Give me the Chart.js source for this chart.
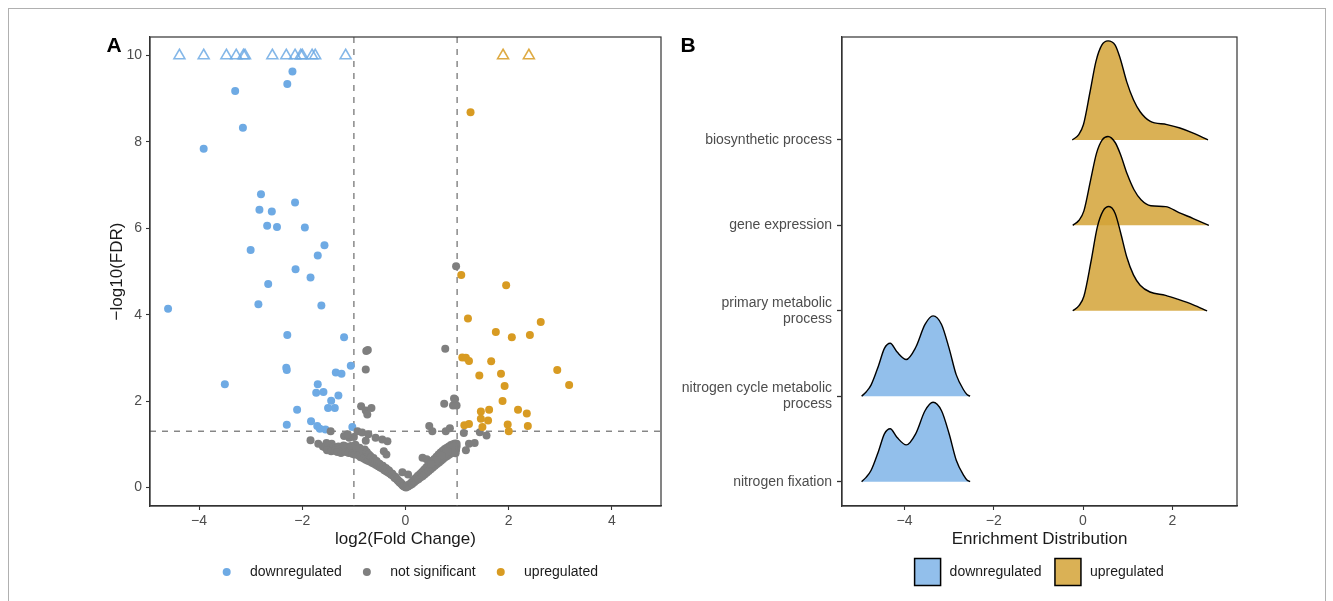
<!DOCTYPE html>
<html>
<head>
<meta charset="utf-8">
<script src="https://cdn.jsdelivr.net/npm/chart.js@4.4.0/dist/chart.umd.min.js"></script>
<style>
  html, body { margin: 0; padding: 0; background: #fff; }
  #page { position: relative; width: 1333px; height: 601px; overflow: hidden; }
  #frame { position: absolute; left: 8px; top: 8px; width: 1318px; height: 600px;
           border: 1px solid #b0b0b0; border-bottom: none; box-sizing: border-box; }
  #panelA { position: absolute; left: 0; top: 0; }
  #panelB { position: absolute; left: 670px; top: 0; }
</style>
</head>
<body>
<div id="page">
  <div id="frame"></div>
  <canvas id="panelA" width="670" height="601"></canvas>
  <canvas id="panelB" width="663" height="601"></canvas>
</div>
<script>
// ---- Panel A: volcano plot, [log2FC, -log10 FDR] ----
const downregulated = [
  [-2.19,9.63],[-2.29,9.34],[-3.30,9.18],[-3.15,8.33],[-3.91,7.84],
  [-2.80,6.79],[-2.83,6.43],[-2.59,6.39],[-2.14,6.60],[-2.68,6.06],[-2.49,6.03],[-1.95,6.02],
  [-3.00,5.50],[-1.57,5.61],[-1.70,5.37],[-2.13,5.05],[-1.84,4.86],[-2.66,4.71],
  [-4.60,4.14],[-2.85,4.24],[-1.63,4.21],[-2.29,3.53],[-1.19,3.48],
  [-1.06,2.82],[-2.31,2.77],[-2.30,2.72],[-1.35,2.66],[-1.24,2.63],
  [-3.50,2.39],[-1.70,2.39],[-1.73,2.19],[-1.59,2.21],[-1.30,2.13],[-1.44,2.01],
  [-1.50,1.84],[-1.37,1.84],[-2.10,1.80],[-2.30,1.45],[-1.83,1.53],[-1.71,1.42],
  [-1.66,1.36],[-1.55,1.34],[-1.03,1.40]
];
const upregulated = [
  [1.26,8.69],[1.08,4.92],[1.95,4.68],[1.21,3.91],[2.62,3.83],[1.75,3.60],[2.06,3.48],[2.41,3.53],
  [1.10,3.01],[1.17,3.00],[1.23,2.93],[1.66,2.92],[2.94,2.72],[1.43,2.59],[1.85,2.63],
  [3.17,2.37],[1.92,2.35],[1.88,2.00],[1.46,1.76],[1.62,1.80],[2.18,1.80],[2.35,1.71],
  [1.46,1.59],[1.60,1.55],[1.14,1.44],[1.23,1.47],[1.49,1.40],[1.98,1.46],[2.00,1.30],[2.37,1.42]
];
const notSignificant = [
  [0.98,5.12],[0.77,3.21],[-0.73,3.18],[-0.76,3.16],[-0.77,2.73],
  [-0.86,1.88],[-0.77,1.78],[-0.74,1.69],[-0.66,1.84],
  [0.75,1.94],[0.92,1.90],[0.96,2.04],[0.99,1.90],[0.94,2.06],
  [0.78,1.30],[0.86,1.37],[0.46,1.42],[0.52,1.30],
  [1.13,1.26],[1.44,1.28],[1.57,1.20],[1.23,1.01],[1.34,1.03],[1.17,0.86],
  [-1.45,1.30],[-1.84,1.09],[-1.69,1.01],[-1.53,1.03],[-1.43,1.01],[-1.42,0.88],
  [-1.19,1.19],[-1.09,1.15],[-1.00,1.17],[-0.93,1.30],[-0.84,1.27],[-0.72,1.23],
  [-1.12,1.23],[-0.77,1.08],[-0.58,1.15],[-0.45,1.11],[-0.35,1.07],
  [-0.42,0.84],[-0.37,0.76],[0.33,0.69],[0.41,0.65],[-0.06,0.35],[0.05,0.30],
  [-1.60,0.95],[-1.55,0.92],[-1.50,0.97],[-1.47,0.90],[-1.40,0.94],[-1.35,0.91],[-1.30,0.95],
  [-1.27,0.89],[-1.22,0.92],[-1.18,0.88],[-1.15,0.95],[-1.12,0.87],[-1.08,0.92],[-1.05,0.85],
  [-1.02,0.90],[-1.00,0.83],[-0.98,0.94],[-0.96,0.86],[-0.94,0.80],[-0.92,0.90],[-0.90,0.82],
  [-0.88,0.76],[-0.86,0.86],[-0.84,0.78],[-0.82,0.73],[-0.80,0.82],[-0.78,0.74],[-0.76,0.69],
  [-0.74,0.78],[-0.72,0.70],[-0.70,0.65],[-0.68,0.73],[-0.66,0.66],[-0.64,0.61],[-0.62,0.68],
  [-0.60,0.62],[-0.58,0.57],[-0.56,0.61],[-0.54,0.56],[-0.52,0.52],[-0.50,0.54],[-0.48,0.50],
  [-0.46,0.47],[-0.44,0.50],[-0.42,0.46],[-0.40,0.42],[-0.38,0.45],[-0.36,0.40],[-0.34,0.37],
  [-0.32,0.39],[-0.30,0.34],[-0.28,0.31],[-0.26,0.32],[-0.24,0.28],[-0.22,0.25],[-0.20,0.25],
  [-0.18,0.21],[-0.16,0.19],[-0.14,0.16],[-0.12,0.14],[-0.10,0.12],[-0.08,0.09],[-0.06,0.07],
  [-0.04,0.05],[-0.02,0.03],[0.00,0.02],
  [-1.52,0.86],[-1.44,0.84],[-1.37,0.85],[-1.32,0.82],[-1.25,0.80],[-1.20,0.97],[-1.16,0.82],
  [-1.10,0.80],[-1.06,0.96],[-1.03,0.78],[-0.99,0.76],[-0.97,0.99],[-0.95,0.92],[-0.91,0.74],
  [-0.89,0.92],[-0.87,0.70],[-0.83,0.86],[-0.81,0.67],[-0.79,0.88],[-0.77,0.64],[-0.75,0.82],
  [-0.73,0.62],[-0.71,0.76],[-0.69,0.60],[-0.67,0.70],[-0.65,0.57],[-0.63,0.64],[-0.61,0.55],
  [-0.59,0.60],[-0.57,0.52],[-0.55,0.58],[-0.53,0.49],[-0.51,0.55],[-0.49,0.46],[-0.47,0.51],
  [-0.45,0.44],[-0.43,0.47],[-0.41,0.40],[-0.39,0.43],[-0.37,0.37],[-0.35,0.41],[-0.33,0.34],
  [-0.31,0.36],[-0.29,0.31],[-0.27,0.29],[-0.25,0.30],[-0.23,0.26],[-0.21,0.22],[-0.19,0.23],
  [-0.17,0.19],[-0.15,0.16],[-0.13,0.14],[-0.11,0.11],[-0.09,0.10],[-0.07,0.07],[-0.05,0.04],
  [-0.03,0.03],[-0.01,0.01],
  [0.02,0.02],[0.04,0.03],[0.06,0.05],[0.08,0.06],[0.10,0.08],[0.12,0.10],[0.14,0.13],
  [0.16,0.16],[0.18,0.18],[0.20,0.22],[0.22,0.20],[0.24,0.27],[0.26,0.24],[0.28,0.31],
  [0.30,0.27],[0.32,0.36],[0.34,0.31],[0.36,0.41],[0.38,0.35],[0.40,0.46],[0.42,0.39],
  [0.44,0.52],[0.46,0.44],[0.48,0.57],[0.50,0.48],[0.52,0.62],[0.54,0.52],[0.56,0.66],
  [0.58,0.56],[0.60,0.71],[0.62,0.60],[0.64,0.76],[0.66,0.64],[0.68,0.81],[0.70,0.68],
  [0.72,0.85],[0.74,0.71],[0.76,0.89],[0.78,0.75],[0.80,0.92],[0.82,0.78],[0.84,0.95],
  [0.86,0.81],[0.88,0.98],[0.90,0.83],[0.92,1.00],[0.94,0.86],[0.96,1.02],[0.98,0.88],
  [0.99,0.95],[0.97,0.79],[0.93,0.93],[0.85,0.88],[0.75,0.80],[0.65,0.70],[0.55,0.58],
  [0.01,0.00],[0.03,0.04],[0.05,0.02],[0.07,0.07],[0.09,0.05],[0.11,0.11],[0.13,0.08],
  [0.15,0.17],[0.17,0.12],[0.19,0.20],[0.21,0.16],[0.23,0.24],[0.25,0.19],[0.27,0.28],
  [0.29,0.23],[0.31,0.32],[0.33,0.26],[0.35,0.37],[0.37,0.30],[0.39,0.42],[0.41,0.34],
  [0.43,0.47],[0.45,0.38],[0.47,0.53],[0.49,0.42],[0.51,0.58],[0.53,0.46],[0.55,0.63],
  [0.57,0.50],[0.59,0.67],[0.61,0.54],[0.63,0.72],[0.65,0.58],[0.67,0.77],[0.69,0.62],
  [0.71,0.80],[0.73,0.66],[0.75,0.86],[0.77,0.70],[0.79,0.86],[0.81,0.73],[0.83,0.90],
  [0.85,0.76],[0.87,0.93],[0.89,0.79],[0.91,0.96],[0.93,0.82],[0.95,0.97],[0.97,0.84],
  [0.99,1.01],[0.98,0.92],[0.96,0.90],[0.94,0.94],[0.90,0.89],[0.82,0.84],[0.70,0.74],
  [0.60,0.63],[0.50,0.54]
];
// values above the y cap, drawn as open triangles at 10
const downCapped = [-4.38,-3.91,-3.47,-3.28,-3.14,-3.11,-2.58,-2.31,-2.14,-2.03,-2.00,-1.81,-1.75,-1.16];
const upCapped = [1.89,2.39];
const yCap = 10;

const fcCutoffs = [-1, 1];
const fdrCutoff = [1.30103];

const xTicksA = [-4, -2, 0, 2, 4];
const yTicksA = [0, 2, 4, 6, 8, 10];

// ---- Panel B: ridgeline densities, [enrichment, density height] ----
const terms = ['nitrogen fixation', ['nitrogen cycle metabolic', 'process'], ['primary metabolic', 'process'],
               'gene expression', 'biosynthetic process'];
const termGroup = ['downregulated', 'downregulated', 'upregulated', 'upregulated', 'upregulated'];

const nitrogenFixation = [[-4.96,0],[-4.86,0.05],[-4.75,0.13],[-4.58,0.36],[-4.45,0.56],[-4.32,0.62],
  [-4.17,0.52],[-3.96,0.43],[-3.75,0.56],[-3.54,0.83],[-3.36,0.93],[-3.17,0.83],[-3.00,0.56],
  [-2.84,0.25],[-2.67,0.07],[-2.60,0.02],[-2.53,0]];
const nitrogenCycle = [[-4.96,0],[-4.86,0.05],[-4.75,0.13],[-4.58,0.36],[-4.45,0.56],[-4.32,0.62],
  [-4.17,0.52],[-3.96,0.43],[-3.75,0.57],[-3.54,0.84],[-3.36,0.94],[-3.17,0.84],[-3.00,0.56],
  [-2.84,0.25],[-2.67,0.07],[-2.60,0.02],[-2.53,0]];
const primaryMetabolic = [[-0.23,0],[-0.09,0.06],[0.02,0.17],[0.18,0.58],[0.32,0.98],[0.45,1.17],
  [0.58,1.22],[0.72,1.14],[0.84,0.92],[0.98,0.63],[1.13,0.42],[1.28,0.30],[1.50,0.22],
  [1.85,0.18],[2.15,0.13],[2.47,0.07],[2.78,0]];
const geneExpression = [[-0.23,0],[-0.09,0.06],[0.02,0.17],[0.17,0.53],[0.30,0.84],[0.43,1.00],
  [0.56,1.04],[0.72,0.97],[0.84,0.83],[0.99,0.60],[1.14,0.42],[1.30,0.30],[1.52,0.23],
  [1.85,0.22],[2.15,0.15],[2.47,0.08],[2.82,0]];
const biosynthetic = [[-0.24,0],[-0.10,0.06],[0.01,0.18],[0.16,0.57],[0.29,0.92],[0.42,1.11],
  [0.56,1.16],[0.72,1.11],[0.83,0.96],[0.98,0.68],[1.13,0.47],[1.28,0.33],[1.50,0.22],
  [1.88,0.18],[2.17,0.14],[2.47,0.08],[2.80,0]];
const densities = [nitrogenFixation, nitrogenCycle, primaryMetabolic, geneExpression, biosynthetic];

const xTicksB = [-4, -2, 0, 2];

// colours
const BLUE = '#6eaae4';
const GREY = '#7f7f7f';
const GOLD = '#d89b22';
const RIDGE = { downregulated: 'rgba(110,170,228,0.75)', upregulated: 'rgba(212,163,55,0.85)' };

const FONT = "'Liberation Sans', Arial, Helvetica, sans-serif";
Chart.defaults.font.family = FONT;
Chart.defaults.color = '#4d4d4d';

const minus = v => String(v).replace('-', '\u2212');
const toXY = arr => arr.map(p => ({ x: p[0], y: p[1] }));

function axisStyle(extra) {
  return Object.assign({
    type: 'linear',
    grid: { drawOnChartArea: false, drawTicks: true, tickLength: 4, tickColor: '#333', tickWidth: 1.1 },
    border: { display: true, color: '#333', width: 1.2 },
    ticks: { font: { size: 14 }, color: '#4d4d4d', padding: 3, autoSkip: false, maxRotation: 0 }
  }, extra);
}

function drawBox(ctx, a) {
  ctx.save();
  ctx.strokeStyle = '#333';
  ctx.lineWidth = 1.2;
  ctx.strokeRect(a.left, a.top, a.right - a.left, a.bottom - a.top);
  ctx.restore();
}

// ---- chart A ----
const volcanoDecor = {
  id: 'volcanoDecor',
  beforeDatasetsDraw(chart) {
    const { ctx, chartArea: a, scales: { x, y } } = chart;
    ctx.save();
    ctx.strokeStyle = '#808080';
    ctx.lineWidth = 1.4;
    ctx.setLineDash([6, 6]);
    fcCutoffs.forEach(v => {
      const px = x.getPixelForValue(v);
      ctx.beginPath(); ctx.moveTo(px, a.top); ctx.lineTo(px, a.bottom); ctx.stroke();
    });
    fdrCutoff.forEach(v => {
      const py = y.getPixelForValue(v);
      ctx.beginPath(); ctx.moveTo(a.left, py); ctx.lineTo(a.right, py); ctx.stroke();
    });
    ctx.restore();
  },
  afterDraw(chart) {
    const { ctx, chartArea: a } = chart;
    drawBox(ctx, a);
    ctx.save();
    ctx.fillStyle = '#000';
    ctx.font = 'bold 21px ' + FONT;
    ctx.textAlign = 'center';
    ctx.textBaseline = 'middle';
    ctx.fillText('A', 114, 46);

    ctx.fillStyle = '#1a1a1a';
    ctx.font = '17px ' + FONT;
    ctx.fillText('log2(Fold Change)', (a.left + a.right) / 2, 539);
    ctx.save();
    ctx.translate(117, (a.top + a.bottom) / 2);
    ctx.rotate(-Math.PI / 2);
    ctx.fillText('\u2212log10(FDR)', 0, 0);
    ctx.restore();

    // legend
    const items = [['downregulated', BLUE], ['not significant', GREY], ['upregulated', GOLD]];
    ctx.font = '14px ' + FONT;
    ctx.textAlign = 'left';
    let lx = 226.7;
    const ly = 572;
    items.forEach(([label, col]) => {
      ctx.fillStyle = col;
      ctx.beginPath(); ctx.arc(lx, ly, 4, 0, Math.PI * 2); ctx.fill();
      ctx.fillStyle = '#1a1a1a';
      ctx.fillText(label, lx + 23.3, ly);
      lx += 23.3 + ctx.measureText(label).width + 25;
    });
    ctx.restore();
  }
};

new Chart(document.getElementById('panelA'), {
  type: 'scatter',
  data: {
    datasets: [
      { label: 'upregulated', data: toXY(upregulated), order: 1,
        pointRadius: 4, pointBackgroundColor: GOLD, pointBorderWidth: 0 },
      { label: 'not significant', data: toXY(notSignificant), order: 2,
        pointRadius: 4, pointBackgroundColor: GREY, pointBorderWidth: 0 },
      { label: 'downregulated', data: toXY(downregulated), order: 3,
        pointRadius: 4, pointBackgroundColor: BLUE, pointBorderWidth: 0 },
      { label: 'downregulated capped', data: downCapped.map(v => ({ x: v, y: yCap })), order: 4,
        pointStyle: 'triangle', pointRadius: 6.3, pointBackgroundColor: 'rgba(0,0,0,0)',
        pointBorderColor: 'rgba(110,170,228,0.85)', pointBorderWidth: 1.6 },
      { label: 'upregulated capped', data: upCapped.map(v => ({ x: v, y: yCap })), order: 5,
        pointStyle: 'triangle', pointRadius: 6.3, pointBackgroundColor: 'rgba(0,0,0,0)',
        pointBorderColor: 'rgba(216,155,34,0.85)', pointBorderWidth: 1.6 }
    ]
  },
  options: {
    responsive: false,
    animation: false,
    devicePixelRatio: 1,
    layout: { padding: { top: 37, right: 9, left: 0, bottom: 0 } },
    plugins: { legend: { display: false }, tooltip: { enabled: false } },
    scales: {
      x: axisStyle({
        min: -4.95, max: 4.95,
        afterFit: s => { s.height = 95; },
        afterBuildTicks: s => { s.ticks = xTicksA.map(v => ({ value: v })); },
        ticks: { font: { size: 14 }, color: '#4d4d4d', padding: 3, autoSkip: false, maxRotation: 0,
                 callback: v => minus(v) }
      }),
      y: axisStyle({
        min: -0.43, max: 10.43,
        afterFit: s => { s.width = 150; },
        afterBuildTicks: s => { s.ticks = yTicksA.map(v => ({ value: v })); },
        ticks: { font: { size: 14 }, color: '#4d4d4d', padding: 4, autoSkip: false,
                 callback: v => minus(v) }
      })
    }
  },
  plugins: [volcanoDecor]
});

// ---- chart B ----
const ridgeDecor = {
  id: 'ridgeDecor',
  afterDraw(chart) {
    const { ctx, chartArea: a } = chart;
    drawBox(ctx, a);
    ctx.save();
    ctx.fillStyle = '#000';
    ctx.font = 'bold 21px ' + FONT;
    ctx.textAlign = 'center';
    ctx.textBaseline = 'middle';
    ctx.fillText('B', 18, 46);

    ctx.fillStyle = '#1a1a1a';
    ctx.font = '17px ' + FONT;
    ctx.fillText('Enrichment Distribution', (a.left + a.right) / 2, 539);

    // legend
    ctx.font = '14px ' + FONT;
    ctx.textAlign = 'left';
    const items = [['downregulated', RIDGE.downregulated], ['upregulated', RIDGE.upregulated]];
    let lx = 914.6 - 670;
    items.forEach(([label, col]) => {
      ctx.fillStyle = col;
      ctx.fillRect(lx, 558.5, 26, 27);
      ctx.strokeStyle = '#000';
      ctx.lineWidth = 1.5;
      ctx.strokeRect(lx, 558.5, 26, 27);
      ctx.fillStyle = '#1a1a1a';
      ctx.fillText(label, lx + 35, 572);
      lx += 35 + ctx.measureText(label).width + 13.5;
    });
    ctx.restore();
  }
};

new Chart(document.getElementById('panelB'), {
  type: 'line',
  data: {
    datasets: densities.map((d, i) => ({
      label: Array.isArray(terms[i]) ? terms[i].join(' ') : terms[i],
      data: d.map(p => ({ x: p[0], y: i + 1 + p[1] })),
      fill: { value: i + 1 },
      backgroundColor: RIDGE[termGroup[i]],
      borderColor: '#000',
      borderWidth: 1.4,
      pointRadius: 0,
      cubicInterpolationMode: 'monotone',
      tension: 0.4
    }))
  },
  options: {
    responsive: false,
    animation: false,
    devicePixelRatio: 1,
    layout: { padding: { top: 37, right: 96, left: 0, bottom: 0 } },
    plugins: { legend: { display: false }, tooltip: { enabled: false } },
    scales: {
      x: axisStyle({
        min: -5.4, max: 3.45,
        afterFit: s => { s.height = 95; },
        afterBuildTicks: s => { s.ticks = xTicksB.map(v => ({ value: v })); },
        ticks: { font: { size: 14 }, color: '#4d4d4d', padding: 3, autoSkip: false, maxRotation: 0,
                 callback: v => minus(v) }
      }),
      y: axisStyle({
        min: 0.715, max: 6.205,
        afterFit: s => { s.width = 172; },
        afterBuildTicks: s => { s.ticks = terms.map((t, i) => ({ value: i + 1 })); },
        grid: { drawOnChartArea: false, drawTicks: true, tickLength: 5, tickColor: '#333', tickWidth: 1.3 },
        ticks: { font: { size: 14, lineHeight: 1.15 }, color: '#4d4d4d', padding: 5, autoSkip: false,
                 callback: v => terms[Math.round(v) - 1] }
      })
    }
  },
  plugins: [ridgeDecor]
});
</script>
</body>
</html>
